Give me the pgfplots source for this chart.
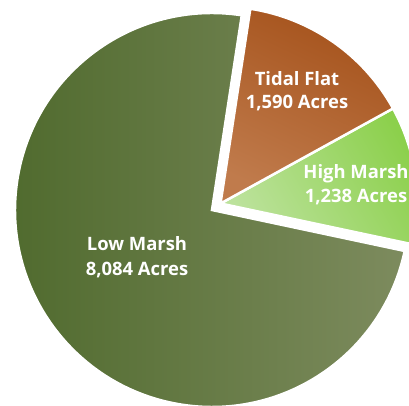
\documentclass[border=0pt]{standalone}
\usepackage{pgfplots}
\usepackage{pgfplotstable}
\pgfplotsset{compat=1.18}
\usepackage{fontspec}
\setmainfont{Open Sans}

\definecolor{lowL}{HTML}{4F6A2D}
\definecolor{lowR}{HTML}{7D8B5E}
\definecolor{tidD}{HTML}{A5521B}
\definecolor{tidL}{HTML}{C07B4C}
\definecolor{highD}{HTML}{8CD04C}
\definecolor{highL}{HTML}{BCE29C}

% acres per habitat, in drawing order (counter-clockwise)
\pgfplotstableread{
label value
Low   8084
High  1238
Tidal 1590
}\piedata

\begin{document}
\begin{tikzpicture}
\pgfplotstablegetelem{0}{value}\of\piedata \let\vLow\pgfplotsretval
\pgfplotstablegetelem{1}{value}\of\piedata \let\vHigh\pgfplotsretval
\pgfplotstablegetelem{2}{value}\of\piedata \let\vTidal\pgfplotsretval
\pgfmathsetmacro\pieTot{\vLow+\vHigh+\vTidal}
\pgfmathsetmacro\aA{81.3}
\pgfmathsetmacro\aB{\aA+360*(\vLow/\pieTot)}
\pgfmathsetmacro\aC{\aB+360*(\vHigh/\pieTot)}
\pgfmathsetmacro\aD{\aC+360*(\vTidal/\pieTot)}
\def\pieR{197}
\def\pieX{212}
\def\pieY{196}
\def\pieXe{220.5}
\def\pieYe{202.5}
\useasboundingbox (0,0) rectangle (409bp,406bp);
\begin{axis}[
    at={(0,0)}, anchor=south west,
    width=409bp, height=406bp, scale only axis,
    xmin=0, xmax=409, ymin=0, ymax=406,
    hide axis, clip=true]
  % low marsh
  \fill[left color=lowL, right color=lowR, draw=white, line width=2.5bp]
    (axis cs:\pieX,\pieY) -- (axis cs:{\pieX+\pieR*cos(\aA)},{\pieY+\pieR*sin(\aA)})
    arc[start angle=\aA, end angle=\aB, radius=\pieR bp] -- cycle;
  % high marsh
  \fill[top color=highD, bottom color=highL, shading angle=-60, draw=white, line width=2.5bp]
    (axis cs:\pieXe,\pieYe) -- (axis cs:{\pieXe+\pieR*cos(\aB)},{\pieYe+\pieR*sin(\aB)})
    arc[start angle=\aB, end angle=\aC, radius=\pieR bp] -- cycle;
  % tidal flat
  \fill[top color=tidD, bottom color=tidL, shading angle=-25, draw=white, line width=2.5bp]
    (axis cs:\pieXe,\pieYe) -- (axis cs:{\pieXe+\pieR*cos(\aC)},{\pieYe+\pieR*sin(\aC)})
    arc[start angle=\aC, end angle=\aD, radius=\pieR bp] -- cycle;
  \node[text=white, font=\fontsize{18.5}{25}\selectfont\bfseries, align=center]
    at (axis cs:137,149) {Low Marsh\\8,084 Acres};
  \node[text=white, font=\fontsize{18.5}{23.5}\selectfont\bfseries, align=center]
    at (axis cs:297,315) {Tidal Flat\\1,590 Acres};
  \node[text=white, font=\fontsize{18.5}{24}\selectfont\bfseries, align=center]
    at (axis cs:356,221) {High Marsh\\1,238 Acres};
\end{axis}
\end{tikzpicture}
\end{document}
